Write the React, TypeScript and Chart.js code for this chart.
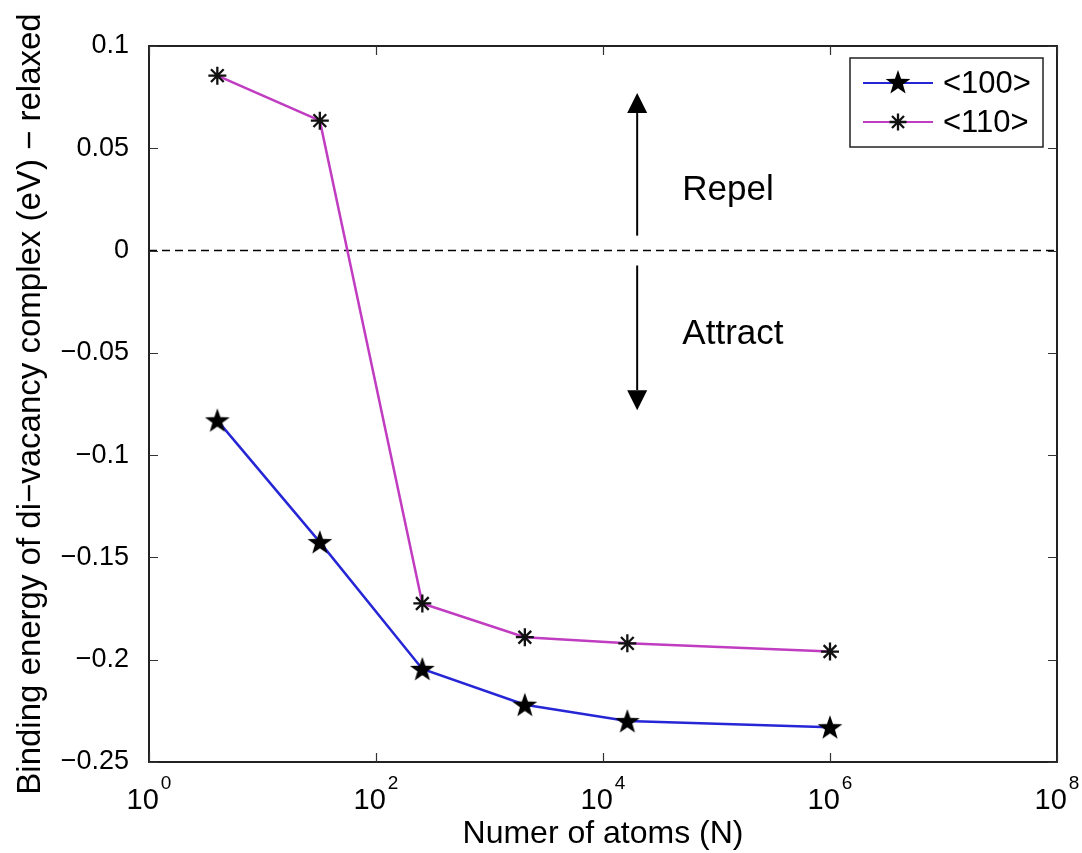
import React, { useEffect, useRef } from 'react';
import { Chart, registerables } from 'chart.js';

Chart.register(...registerables);

// ---- data ----
const atomCounts = [4, 32, 256, 2048, 16384, 1000000];
const energy100 = [-0.083, -0.1425, -0.2045, -0.222, -0.23, -0.233];
const energy110 = [0.0855, 0.0635, -0.1725, -0.189, -0.192, -0.196];
const seriesLabels = ['<100>', '<110>'];
const xTickExponents = [0, 2, 4, 6, 8];
const yTickValues = [-0.25, -0.2, -0.15, -0.1, -0.05, 0, 0.05, 0.1];
const xAxisTitle = 'Numer of atoms (N)';
const yAxisTitle = 'Binding energy of di\u2212vacancy complex (eV) \u2212 relaxed';

// annotations (data coordinates)
const arrowAtoms = 20000;
const repelArrow = [0.0073, 0.077];
const attractArrow = [-0.0073, -0.078];
const noteAtoms = 50000;
const repelNote = { text: 'Repel', y: 0.0245 };
const attractNote = { text: 'Attract', y: -0.0455 };

const FONT = '"Liberation Sans", Arial, Helvetica, sans-serif';
const BLUE = '#2626d6';
const MAGENTA = '#c03cc0';

function makeStar(): HTMLCanvasElement {
  const c = document.createElement('canvas');
  c.width = 30;
  c.height = 30;
  const g = c.getContext('2d')!;
  g.fillStyle = '#000';
  g.beginPath();
  const R = 13, r = 5.2;
  for (let i = 0; i < 10; i++) {
    const rad = i % 2 === 0 ? R : r;
    const ang = -Math.PI / 2 + (i * Math.PI) / 5;
    const px = 15 + rad * Math.cos(ang);
    const py = 16 + rad * Math.sin(ang);
    if (i === 0) g.moveTo(px, py);
    else g.lineTo(px, py);
  }
  g.closePath();
  g.fill();
  return c;
}

function drawAsterisk(ctx: CanvasRenderingContext2D, cx: number, cy: number, r: number) {
  ctx.save();
  ctx.strokeStyle = '#111';
  ctx.lineWidth = 2.3;
  ctx.beginPath();
  for (let i = 0; i < 4; i++) {
    const a = (i * Math.PI) / 4;
    ctx.moveTo(cx - r * Math.cos(a), cy - r * Math.sin(a));
    ctx.lineTo(cx + r * Math.cos(a), cy + r * Math.sin(a));
  }
  ctx.stroke();
  ctx.restore();
}

function arrow(ctx: CanvasRenderingContext2D, x: number, y1: number, y2: number) {
  const dir = y2 < y1 ? -1 : 1;
  const head = 20;
  ctx.beginPath();
  ctx.moveTo(x, y1);
  ctx.lineTo(x, y2 - dir * head);
  ctx.stroke();
  ctx.beginPath();
  ctx.moveTo(x, y2);
  ctx.lineTo(x - 10, y2 - dir * head);
  ctx.lineTo(x + 10, y2 - dir * head);
  ctx.closePath();
  ctx.fill();
}

export default function App() {
  const ref = useRef<HTMLCanvasElement>(null);

  useEffect(() => {
    const canvas = ref.current!;
    const star = makeStar();

    const decor = {
      id: 'matlabDecor',
      beforeDatasetsDraw(chart: any) {
        const { ctx, chartArea: a, scales } = chart;
        const y0 = scales.y.getPixelForValue(0);
        ctx.save();
        ctx.strokeStyle = '#000';
        ctx.lineWidth = 1.6;
        ctx.setLineDash([8, 5]);
        ctx.beginPath();
        ctx.moveTo(a.left, y0);
        ctx.lineTo(a.right, y0);
        ctx.stroke();
        ctx.restore();
      },
      afterDatasetsDraw(chart: any) {
        const { ctx, chartArea: a, scales } = chart;
        const xs = scales.x, ys = scales.y;
        ctx.save();
        // frame
        ctx.strokeStyle = '#222';
        ctx.lineWidth = 2;
        ctx.strokeRect(a.left, a.top, a.right - a.left, a.bottom - a.top);
        // ticks
        ctx.lineWidth = 1.2;
        ctx.strokeStyle = '#333';
        ctx.beginPath();
        for (const v of yTickValues) {
          const py = Math.round(ys.getPixelForValue(v)) + 0.5;
          ctx.moveTo(a.left, py);
          ctx.lineTo(a.left + 9, py);
          ctx.moveTo(a.right, py);
          ctx.lineTo(a.right - 9, py);
        }
        for (const e of xTickExponents) {
          const px = Math.round(xs.getPixelForValue(Math.pow(10, e))) + 0.5;
          ctx.moveTo(px, a.bottom);
          ctx.lineTo(px, a.bottom - 9);
          ctx.moveTo(px, a.top);
          ctx.lineTo(px, a.top + 9);
        }
        ctx.stroke();

        // x tick labels 10^n
        ctx.fillStyle = '#000';
        ctx.textBaseline = 'alphabetic';
        ctx.textAlign = 'left';
        for (const e of xTickExponents) {
          const px = xs.getPixelForValue(Math.pow(10, e));
          ctx.font = `29px ${FONT}`;
          const wb = ctx.measureText('10').width;
          ctx.font = `19px ${FONT}`;
          const we = ctx.measureText(String(e)).width;
          const start = px - (wb + 2 + we) / 2;
          ctx.font = `29px ${FONT}`;
          ctx.fillText('10', start, a.bottom + 47);
          ctx.font = `19px ${FONT}`;
          ctx.fillText(String(e), start + wb + 2, a.bottom + 27);
        }

        // arrows
        ctx.strokeStyle = '#000';
        ctx.fillStyle = '#000';
        ctx.lineWidth = 2;
        const ax = xs.getPixelForValue(arrowAtoms);
        arrow(ctx, ax, ys.getPixelForValue(repelArrow[0]), ys.getPixelForValue(repelArrow[1]));
        arrow(ctx, ax, ys.getPixelForValue(attractArrow[0]), ys.getPixelForValue(attractArrow[1]));

        // notes
        ctx.font = `35px ${FONT}`;
        const nx = xs.getPixelForValue(noteAtoms);
        ctx.fillText(repelNote.text, nx, ys.getPixelForValue(repelNote.y));
        ctx.fillText(attractNote.text, nx, ys.getPixelForValue(attractNote.y));

        // legend
        const bw = 193, bh = 89;
        const bx = a.right - 14 - bw, by = a.top + 12;
        ctx.fillStyle = '#fff';
        ctx.fillRect(bx, by, bw, bh);
        ctx.strokeStyle = '#222';
        ctx.lineWidth = 1.5;
        ctx.strokeRect(bx, by, bw, bh);
        const rows = [by + 25, by + 64];
        chart.data.datasets.forEach((ds: any, i: number) => {
          const ry = rows[i];
          ctx.strokeStyle = ds.borderColor;
          ctx.lineWidth = 2;
          ctx.beginPath();
          ctx.moveTo(bx + 13, ry);
          ctx.lineTo(bx + 83, ry);
          ctx.stroke();
          if (i === 0) ctx.drawImage(star, bx + 48 - 15, ry - 16);
          else drawAsterisk(ctx, bx + 48, ry, 8.5);
          ctx.fillStyle = '#000';
          ctx.font = `31px ${FONT}`;
          ctx.textBaseline = 'middle';
          ctx.fillText(ds.label, bx + 93, ry + 1);
        });
        ctx.restore();
      },
    };

    const asteriskStyle = 'star';

    const chart = new Chart(canvas, {
      type: 'line',
      data: {
        datasets: [
          {
            label: seriesLabels[0],
            data: atomCounts.map((n, i) => ({ x: n, y: energy100[i] })),
            borderColor: BLUE,
            backgroundColor: BLUE,
            borderWidth: 2.5,
            pointStyle: star as any,
            pointRadius: 13,
            tension: 0,
          },
          {
            label: seriesLabels[1],
            data: atomCounts.map((n, i) => ({ x: n, y: energy110[i] })),
            borderColor: MAGENTA,
            backgroundColor: MAGENTA,
            borderWidth: 2.5,
            pointStyle: asteriskStyle as any,
            pointRadius: 9,
            pointBorderColor: '#111',
            pointBorderWidth: 2.3,
            tension: 0,
          },
        ],
      },
      options: {
        responsive: false,
        animation: false,
        devicePixelRatio: 1,
        layout: { padding: { top: 46, right: 25, left: 0, bottom: 0 } },
        plugins: { legend: { display: false }, tooltip: { enabled: false } },
        scales: {
          x: {
            type: 'logarithmic',
            min: 1,
            max: 1e8,
            grid: { display: false, drawTicks: false },
            border: { display: false },
            ticks: { display: false },
            title: {
              display: true,
              text: xAxisTitle,
              color: '#000',
              font: { family: FONT, size: 32 },
              padding: { top: 0, bottom: 0 },
            },
            afterFit: (s: any) => {
              s.height = 91;
            },
          },
          y: {
            type: 'linear',
            min: -0.25,
            max: 0.1,
            grid: { display: false, drawTicks: false },
            border: { display: false },
            afterBuildTicks: (s: any) => {
              s.ticks = yTickValues.map((v) => ({ value: v }));
            },
            ticks: {
              color: '#000',
              padding: 20,
              font: { family: FONT, size: 27 },
              callback: (v: any) => String(Number(Number(v).toFixed(2))).replace('-', '\u2212'),
            },
            title: {
              display: true,
              text: yAxisTitle,
              color: '#000',
              font: { family: FONT, size: 33 },
              padding: { top: 11, bottom: 0 },
            },
            afterFit: (s: any) => {
              s.width = 149;
            },
          },
        },
      },
      plugins: [decor],
    } as any);

    return () => chart.destroy();
  }, []);

  return (
    <div style={{ position: 'fixed', left: 0, top: 0, width: 1082, height: 853, background: '#fff' }}>
      <canvas ref={ref} width={1082} height={853} style={{ display: 'block' }} />
    </div>
  );
}
